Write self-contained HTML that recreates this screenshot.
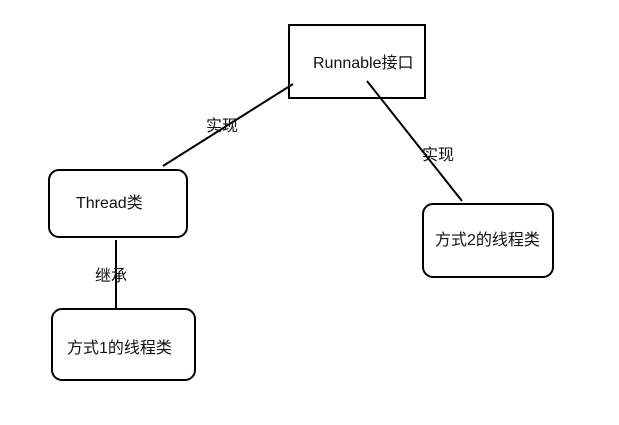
<!DOCTYPE html>
<html><head><meta charset="utf-8"><style>
html,body{margin:0;padding:0;background:#fff;width:619px;height:425px;overflow:hidden}
svg text{font-family:"Liberation Sans","Noto Sans CJK SC",sans-serif;font-size:16px;fill:#111}
</style></head><body>
<svg width="619" height="425" viewBox="0 0 619 425" xmlns="http://www.w3.org/2000/svg">
<g fill="none" stroke="#000" stroke-width="2">
<rect x="289" y="25" width="136" height="73"/>
<rect x="49" y="170" width="138" height="67" rx="10"/>
<rect x="52" y="309" width="143" height="71" rx="10"/>
<rect x="423" y="204" width="130" height="73" rx="10"/>
<line x1="163" y1="166" x2="293" y2="84"/>
<line x1="367" y1="81" x2="462" y2="201"/>
<line x1="116" y1="240" x2="116" y2="308"/>
</g>
<text x="313" y="68">Runnable接口</text>
<text x="206" y="131">实现</text>
<text x="422" y="160">实现</text>
<text x="76" y="208">Thread类</text>
<text x="95" y="281">继承</text>
<text x="67" y="353">方式1的线程类</text>
<text x="435" y="245">方式2的线程类</text>
</svg>
</body></html>
